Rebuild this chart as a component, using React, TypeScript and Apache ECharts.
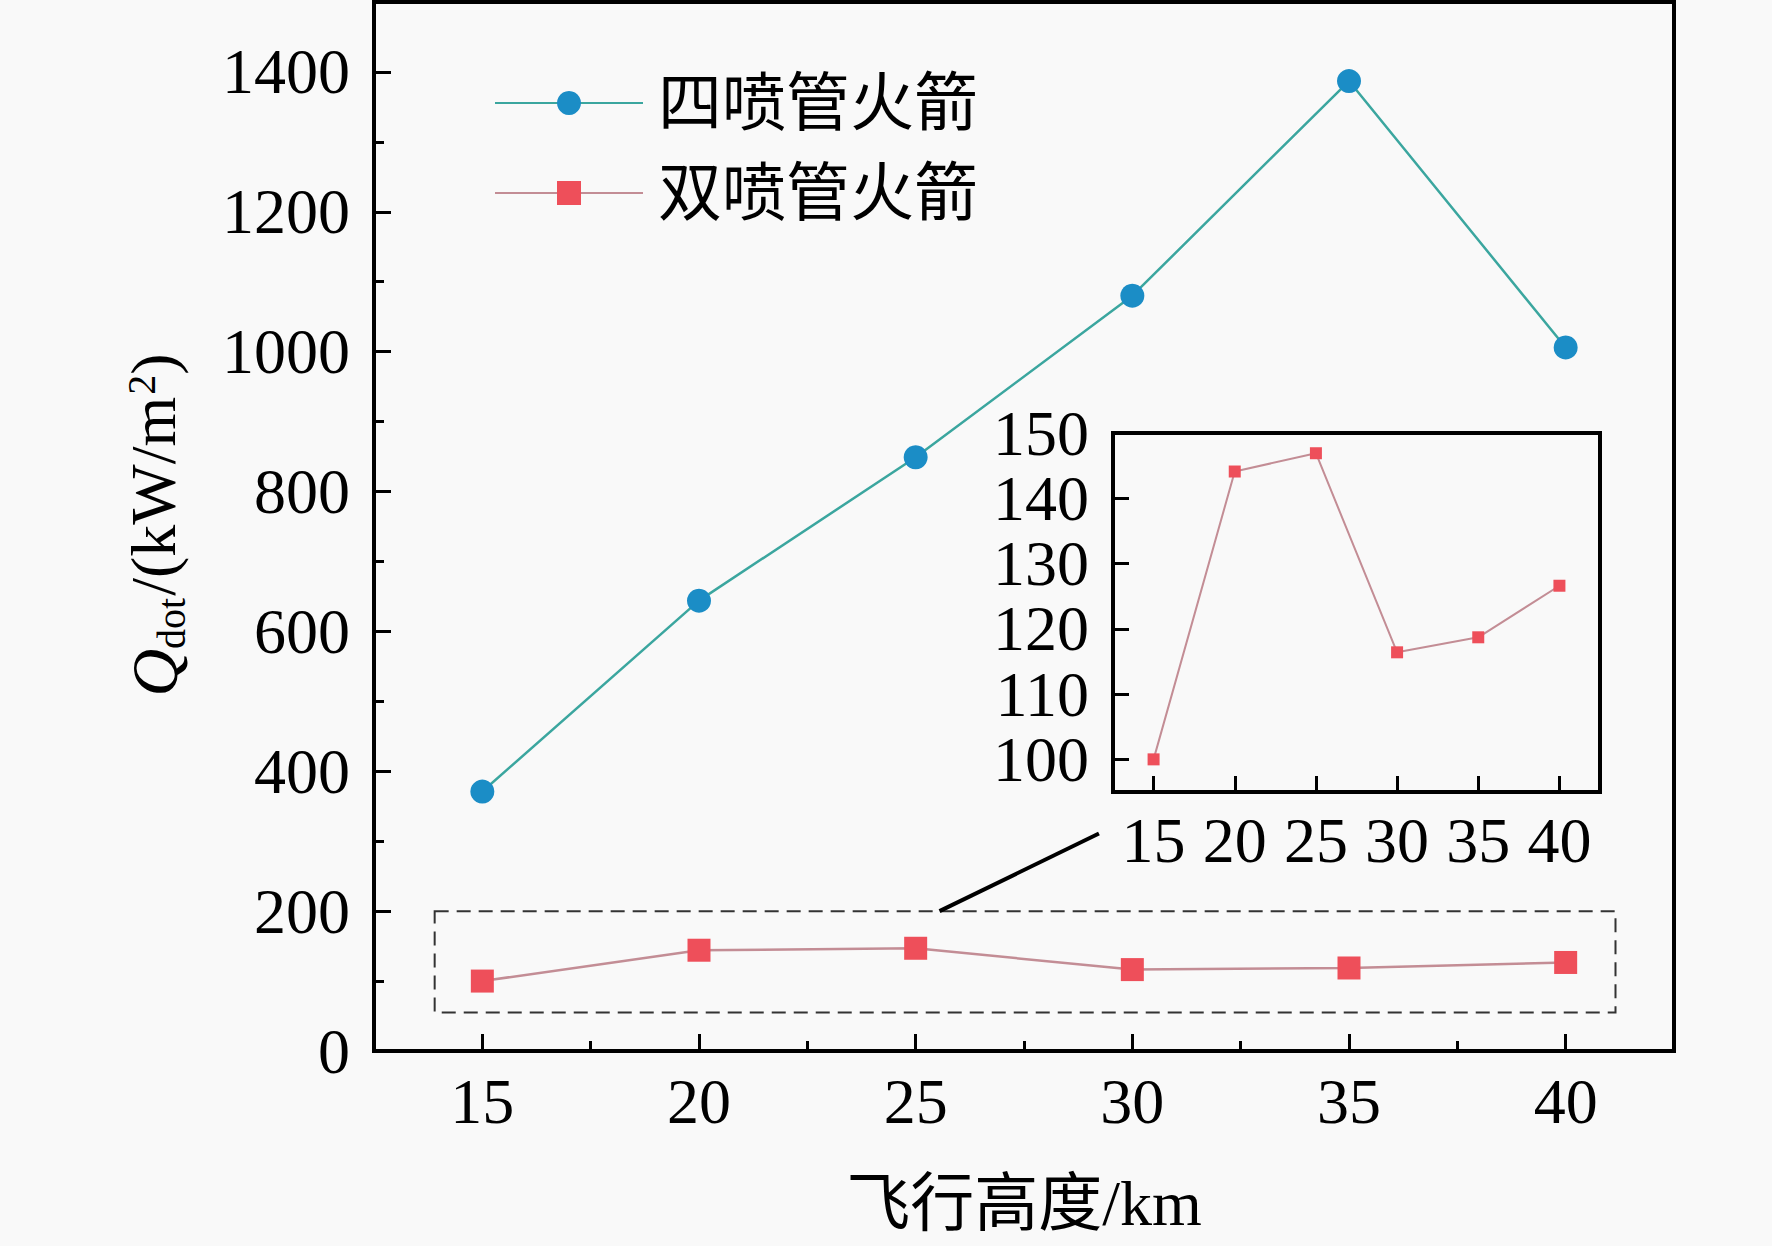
import React, { useEffect, useRef } from "react";
import * as echarts from "echarts";

// ---- data ----
const altitudes = [15, 20, 25, 30, 35, 40];
const fourNozzle = [371, 644, 849, 1080, 1387, 1006];
const twoNozzle = [100.0, 144.1, 146.9, 116.4, 118.7, 126.6];
const seriesNames = ["四喷管火箭", "双喷管火箭"];
const mainYTicks = [0, 200, 400, 600, 800, 1000, 1200, 1400];
const mainYMinor = [100, 300, 500, 700, 900, 1100, 1300];
const xMinor = [17.5, 22.5, 27.5, 32.5, 37.5];
const insetYTicks = [100, 110, 120, 130, 140];
const insetYLabels = [100, 110, 120, 130, 140, 150];
const xTitle = "飞行高度/km";

const SERIF = "'Liberation Serif', 'Times New Roman', 'Noto Sans CJK SC', serif";
const BG = "#f9f9f9";

export default function App() {
  const ref = useRef<HTMLDivElement>(null);
  useEffect(() => {
    document.body.style.margin = "0";
    const chart = echarts.init(ref.current!, null, { renderer: "svg" });
    const pairs = (ys: number[]) => altitudes.map((x, i) => [x, ys[i]]);
    const plain = (v: number) => String(v);
    const labelStyle = { color: "#000", fontFamily: SERIF, fontSize: 64, formatter: plain };
    const tickLine = { color: "#000", width: 3 };

    const option: any = {
      animation: false,
      backgroundColor: BG,
      grid: [
        { left: 374, top: 2, width: 1300, height: 1049, show: true, borderColor: "#000", borderWidth: 4, backgroundColor: "transparent" },
        { left: 1113, top: 433, width: 487, height: 359, show: true, borderColor: "#000", borderWidth: 4, backgroundColor: BG, z: 5 },
      ],
      xAxis: [
        {
          type: "value", gridIndex: 0, min: 12.5, max: 42.5, position: "bottom",
          axisLine: { show: true, lineStyle: { color: "#000", width: 4 } },
          axisTick: { show: true, inside: true, length: 17, lineStyle: tickLine, customValues: altitudes },
          axisLabel: { ...labelStyle, margin: 18, customValues: altitudes },
          splitLine: { show: false },
        },
        {
          type: "value", gridIndex: 0, min: 12.5, max: 42.5, position: "bottom",
          axisLine: { show: false },
          axisTick: { show: true, inside: true, length: 10, lineStyle: tickLine, customValues: xMinor },
          axisLabel: { show: false },
          splitLine: { show: false },
        },
        {
          type: "value", gridIndex: 1, min: 12.5, max: 42.5, position: "bottom",
          axisLine: { show: true, lineStyle: { color: "#000", width: 4 } },
          axisTick: { show: true, inside: true, length: 16, lineStyle: tickLine, customValues: altitudes },
          axisLabel: { ...labelStyle, margin: 16, customValues: altitudes },
          splitLine: { show: false },
          z: 6,
        },
      ],
      yAxis: [
        {
          type: "value", gridIndex: 0, min: 0, max: 1500, position: "left",
          axisLine: { show: true, lineStyle: { color: "#000", width: 4 } },
          axisTick: { show: true, inside: true, length: 17, lineStyle: tickLine, customValues: mainYTicks },
          axisLabel: { ...labelStyle, margin: 24, customValues: mainYTicks },
          splitLine: { show: false },
        },
        {
          type: "value", gridIndex: 0, min: 0, max: 1500, position: "left",
          axisLine: { show: false },
          axisTick: { show: true, inside: true, length: 10, lineStyle: tickLine, customValues: mainYMinor },
          axisLabel: { show: false },
          splitLine: { show: false },
        },
        {
          type: "value", gridIndex: 1, min: 95, max: 150, position: "left",
          axisLine: { show: true, lineStyle: { color: "#000", width: 4 } },
          axisTick: { show: true, inside: true, length: 16, lineStyle: tickLine, customValues: insetYTicks },
          axisLabel: { ...labelStyle, margin: 24, customValues: insetYLabels },
          splitLine: { show: false },
          z: 6,
        },
      ],
      legend: {
        data: seriesNames,
        orient: "vertical",
        left: 489,
        top: 66,
        itemWidth: 148,
        itemHeight: 30,
        itemGap: 26,
        textStyle: { color: "#000", fontFamily: SERIF, fontSize: 64, lineHeight: 64, padding: [0, 0, 0, 10] },
      },
      series: [
        {
          name: seriesNames[0], type: "line", xAxisIndex: 0, yAxisIndex: 0,
          data: pairs(fourNozzle),
          symbol: "circle", symbolSize: 24,
          lineStyle: { color: "#3ba69f", width: 2.5 },
          itemStyle: { color: "#1b8dc6" },
          z: 3,
        },
        {
          name: seriesNames[1], type: "line", xAxisIndex: 0, yAxisIndex: 0,
          data: pairs(twoNozzle),
          symbol: "rect", symbolSize: 23,
          lineStyle: { color: "#c38d95", width: 2.5 },
          itemStyle: { color: "#ee4f5a" },
          z: 3,
          markArea: {
            silent: true,
            itemStyle: { color: "rgba(0,0,0,0)", borderColor: "#333", borderWidth: 2, borderType: [14, 8] },
            label: { show: false },
            data: [[{ coord: [13.9, 200] }, { coord: [41.15, 55] }]],
          },
          markLine: {
            silent: true,
            symbol: ["none", "none"],
            label: { show: false },
            lineStyle: { color: "#000", width: 4, type: "solid" },
            data: [[{ coord: [25.55, 200] }, { coord: [29.23, 311] }]],
          },
        },
        {
          name: seriesNames[1], type: "line", xAxisIndex: 2, yAxisIndex: 2,
          data: pairs(twoNozzle),
          symbol: "rect", symbolSize: 12,
          lineStyle: { color: "#c38d95", width: 2 },
          itemStyle: { color: "#ee4f5a" },
          z: 7,
        },
      ],
      graphic: [
        {
          type: "text", x: 1024, y: 1203, z: 10,
          style: { text: xTitle, fill: "#000", font: `64px ${SERIF}`, align: "center", verticalAlign: "middle" },
        },
        {
          type: "text", x: 153, y: 525, rotation: Math.PI / 2, z: 10,
          style: {
            text: "{q|Q}{s|dot}{n|/(kW/m}{p|2}{n|)}",
            align: "center", verticalAlign: "middle", fill: "#000",
            rich: {
              q: { fontFamily: SERIF, fontSize: 66, fontStyle: "italic", lineHeight: 64, verticalAlign: "top", fill: "#000" },
              n: { fontFamily: SERIF, fontSize: 64, lineHeight: 64, verticalAlign: "top", fill: "#000" },
              s: { fontFamily: SERIF, fontSize: 40, lineHeight: 40, verticalAlign: "top", padding: [30, 2, 0, 0], fill: "#000" },
              p: { fontFamily: SERIF, fontSize: 40, lineHeight: 40, verticalAlign: "top", padding: [0, 0, 0, 2], fill: "#000" },
            },
          },
        },
      ],
    };
    chart.setOption(option);
    return () => chart.dispose();
  }, []);
  return <div ref={ref} style={{ width: 1772, height: 1246 }} />;
}
